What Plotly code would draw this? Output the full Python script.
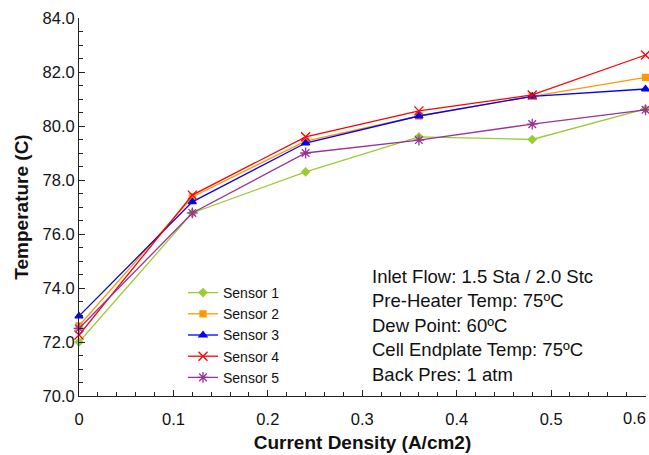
import plotly.graph_objects as go

current_density = [0.0, 0.12, 0.24, 0.36, 0.48, 0.60]
sensor1 = [72.0, 76.78, 78.3, 79.6, 79.5, 80.63]
sensor2 = [72.6, 77.37, 79.44, 80.37, 81.1, 81.8]
sensor3 = [72.96, 77.19, 79.37, 80.37, 81.1, 81.37]
sensor4 = [72.26, 77.44, 79.6, 80.56, 81.15, 82.63]
sensor5 = [72.5, 76.78, 79.0, 79.48, 80.07, 80.6]
series_names = ["Sensor 1", "Sensor 2", "Sensor 3", "Sensor 4", "Sensor 5"]
x_tick_vals = [0, 0.1, 0.2, 0.3, 0.4, 0.5, 0.6]
x_tick_text = ["0", "0.1", "0.2", "0.3", "0.4", "0.5", "0.6"]
y_tick_vals = [70, 72, 74, 76, 78, 80, 82, 84]
info_lines = [
    "Inlet Flow: 1.5 Sta / 2.0 Stc",
    "Pre-Heater Temp: 75ºC",
    "Dew Point: 60ºC",
    "Cell Endplate Temp: 75ºC",
    "Back Pres: 1 atm",
]

colors = ["#99CC33", "#FF9900", "#0000FF", "#FF0000", "#993399"]
symbols = ["diamond", "square", "triangle-up", "x-thin-open", "asterisk-open"]
sizes = [6, 6, 7, 9, 9]
values = [sensor1, sensor2, sensor3, sensor4, sensor5]

fig = go.Figure()
for name, vals, c, s, sz in zip(series_names, values, colors, symbols, sizes):
    fig.add_trace(go.Scatter(
        x=current_density, y=vals, name=name, mode="lines+markers",
        line=dict(color=c, width=1.3),
        marker=dict(symbol=s, size=sz, color=c, line=dict(color=c, width=1.3)),
        cliponaxis=False,
    ))

font_family = "Liberation Sans, Arial, sans-serif"
for i, t in enumerate(info_lines):
    fig.add_annotation(
        text=t, xref="paper", yref="paper", x=(370 - 79) / 567,
        y=(396 - (276 + 24.5 * i)) / 378, xanchor="left", yanchor="middle",
        showarrow=False, font=dict(family=font_family, size=18.5, color="#111111"),
    )

# last x tick label drawn as annotation so it stays inside the page edge
shown_tick_text = x_tick_text[:-1] + [""]
fig.add_annotation(
    text=x_tick_text[-1], xref="x", yref="paper", x=x_tick_vals[-1],
    y=(396 - 418) / 378, xanchor="right", yanchor="middle", xshift=1,
    borderpad=0, showarrow=False,
    font=dict(family=font_family, size=16.5, color="#111111"),
)

fig.update_layout(
    width=649, height=455,
    margin=dict(l=79, r=3, t=18, b=59),
    paper_bgcolor="white", plot_bgcolor="white",
    font=dict(family=font_family, color="#111111"),
    showlegend=True,
    legend=dict(
        x=(183 - 79) / 567, y=(396 - 277) / 378, xanchor="left", yanchor="top",
        font=dict(size=14, family=font_family, color="#111111"),
        bgcolor="rgba(0,0,0,0)", itemwidth=30, tracegroupgap=0,
    ),
    xaxis=dict(
        range=[0, 0.6005], tickvals=x_tick_vals, ticktext=shown_tick_text,
        showgrid=False, zeroline=False, showline=True, linecolor="#222222", linewidth=1,
        ticks="inside", ticklen=6, tickcolor="#222222", ticklabelstandoff=8,
        automargin=False,
        minor=dict(dtick=0.02, ticks="inside", ticklen=4, tickcolor="#222222", showgrid=False),
        tickfont=dict(size=16.5, family=font_family),
        title=dict(text="<b>Current Density (A/cm2)</b>", font=dict(size=19, family=font_family), standoff=8),
    ),
    yaxis=dict(
        range=[70, 84], tickvals=y_tick_vals, tickformat=".1f",
        showgrid=False, zeroline=False, showline=True, linecolor="#222222", linewidth=1,
        ticks="inside", ticklen=6, tickcolor="#222222", automargin=False,
        minor=dict(dtick=0.5, ticks="inside", ticklen=4, tickcolor="#222222", showgrid=False),
        tickfont=dict(size=16.5, family=font_family),
        title=dict(text="<b>Temperature (C)</b>", font=dict(size=19, family=font_family), standoff=8),
    ),
)

fig.write_html("out.html")
